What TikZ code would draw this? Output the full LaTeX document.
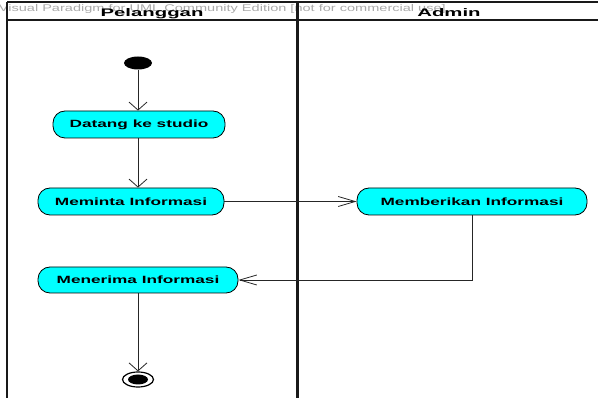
\documentclass[tikz,border=0pt]{standalone}
\usepackage{fontspec}
\setmainfont{Liberation Sans}
\newfontfamily\actfont[FakeStretch=1.64]{Liberation Sans}
\newfontfamily\lanefont[FakeStretch=1.85]{Liberation Sans}
\newfontfamily\markfont[FakeStretch=1.5]{Liberation Sans}
\usetikzlibrary{arrows.meta,shapes.geometric}
\definecolor{actcyan}{RGB}{0,255,255}
\definecolor{markgray}{RGB}{170,170,170}

\begin{document}
\begin{tikzpicture}[x=1pt, y=-1pt, line width=.8pt,
  act/.style={draw=black, fill=actcyan, rounded corners=12pt, minimum height=27pt,
    inner sep=0pt, font=\actfont\fontsize{10.5}{12}\selectfont\bfseries},
  vflow/.style={draw=black!85, -{Straight Barb[length=8pt, width=18pt]}},
  hflow/.style={draw=black!85, -{Straight Barb[length=17pt, width=10pt]}},
  lane/.style={line width=2.2pt, black!90}]
\useasboundingbox (0,0) rectangle (598,398);
% watermark
\node[anchor=base west, inner sep=0pt, text=markgray, font=\markfont\fontsize{9.7}{11}\selectfont]
  (mark) at (-1.5,12) {Visual Paradigm for UML Community Edition [not for commercial use]};
% swimlanes
\draw[lane] (7,2) -- (598,2);
\draw[lane] (7,20) -- (598,20);
\draw[lane] (7,2) -- (7,398);
\draw[lane] (297.5,2) -- (297.5,398);
\node[anchor=base, inner sep=0pt, font=\lanefont\fontsize{11}{13}\selectfont\bfseries] (pelanggan) at (152,17) {Pelanggan};
\node[anchor=base, inner sep=0pt, font=\lanefont\fontsize{11}{13}\selectfont\bfseries] (admin) at (449,17) {Admin};
% start / end
\node[ellipse, fill=black, minimum width=28pt, minimum height=13pt, inner sep=0pt] (start) at (138,63) {};
\node[ellipse, draw=black, line width=1.2pt, minimum width=31pt, minimum height=15pt, inner sep=0pt] (stop) at (138,379.5) {};
\fill (stop.center) ellipse (10 and 5);
% activities
\node[act, minimum width=172pt] (datang) at (139,124.5) {Datang ke studio};
\node[act, minimum width=186pt] (meminta) at (131,201.5) {Meminta Informasi};
\node[act, minimum width=200pt, minimum height=26pt] (menerima) at (138,280) {Menerima Informasi};
\node[act, minimum width=230pt] (memberikan) at (472,201.5) {Memberikan Informasi};
% flows
\draw[vflow] (start.south) -- (start |- datang.north);
\draw[vflow] (start |- datang.south) -- (start |- meminta.north);
\draw[hflow] (meminta.east) -- (memberikan.west);
\draw[hflow] (memberikan.south) -- (memberikan.south |- menerima.east) -- (menerima.east);
\draw[vflow] (start |- menerima.south) -- (stop.north);
\end{tikzpicture}
\end{document}
